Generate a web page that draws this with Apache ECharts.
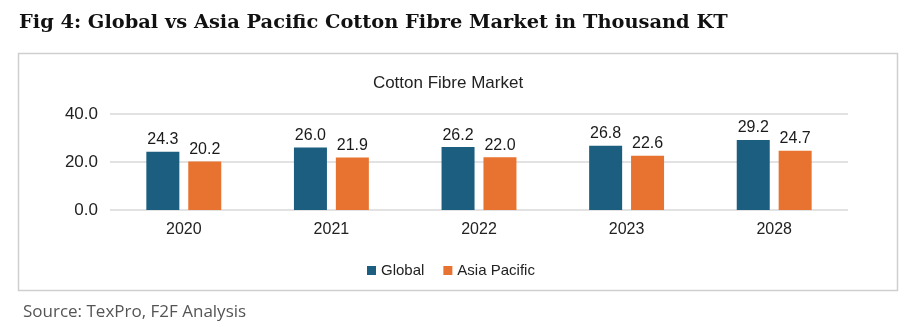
<!DOCTYPE html>
<html><head><meta charset="utf-8">
<script src="https://cdn.jsdelivr.net/npm/echarts@6/dist/echarts.min.js"></script>
<style>html,body{margin:0;padding:0;background:#fff}#c{width:910px;height:327px}</style>
</head><body><div id="c"></div>
<script>
const categories = ['2020', '2021', '2022', '2023', '2028'];
const globalValues = [24.3, 26.0, 26.2, 26.8, 29.2];
const asiaPacificValues = [20.2, 21.9, 22.0, 22.6, 24.7];
const seriesNames = ['Global', 'Asia Pacific'];
const yTicks = [0, 20, 40];

const NARROW = '"Liberation Sans Narrow", "Arial Narrow", "Liberation Sans", sans-serif';
const chart = echarts.init(document.getElementById('c'));
chart.setOption({
  animation: false,
  backgroundColor: '#fff',
  graphic: [{
    type: 'rect', z: -1,
    shape: { x: 18.5, y: 53.5, width: 879, height: 237 },
    style: { fill: '#fff', stroke: '#cfcfcf', lineWidth: 1.5 }
  }],
  title: [
    { text: 'Fig 4: Global vs Asia Pacific Cotton Fibre Market in Thousand KT', left: 14, top: 8,
      textStyle: { fontFamily: '"DejaVu Serif", serif', fontWeight: 'bold', fontSize: 19.4, color: '#111' } },
    { text: 'Cotton Fibre Market', left: 443, top: 70, textAlign: 'center',
      textStyle: { fontFamily: NARROW, fontWeight: 'normal', fontSize: 17, color: '#222' } },
    { text: 'Source: TexPro, F2F Analysis', left: 18, top: 299,
      textStyle: { fontFamily: '"Open Sans", sans-serif', fontWeight: 'normal', fontSize: 17, color: '#555' } }
  ],
  legend: {
    data: seriesNames, left: 362, top: 258, icon: 'rect', itemWidth: 9, itemHeight: 9, itemGap: 19,
    textStyle: { fontFamily: NARROW, fontSize: 15, color: '#222' }
  },
  grid: { left: 110, right: 62, top: 114, bottom: 117 },
  xAxis: {
    type: 'category', data: categories,
    axisLine: { show: false }, axisTick: { show: false },
    axisLabel: { fontFamily: NARROW, fontSize: 16, color: '#222', margin: 12 }
  },
  yAxis: {
    type: 'value', min: yTicks[0], max: yTicks[yTicks.length - 1], interval: 20,
    axisLine: { show: false }, axisTick: { show: false },
    axisLabel: { fontFamily: NARROW, fontSize: 17, color: '#222', margin: 12, formatter: v => v.toFixed(1) },
    splitLine: { lineStyle: { color: '#e2e2e2', width: 2 } }
  },
  series: [
    { name: seriesNames[0], type: 'bar', data: globalValues, barWidth: 33, barGap: '27%',
      itemStyle: { color: '#1b5e80' },
      label: { show: true, position: 'top', distance: 4, formatter: p => p.value.toFixed(1),
        fontFamily: NARROW, fontSize: 16, color: '#1a1a1a' } },
    { name: seriesNames[1], type: 'bar', data: asiaPacificValues, barWidth: 33,
      itemStyle: { color: '#e8722f' },
      label: { show: true, position: 'top', distance: 4, formatter: p => p.value.toFixed(1),
        fontFamily: NARROW, fontSize: 16, color: '#1a1a1a' } }
  ]
});
</script></body></html>
